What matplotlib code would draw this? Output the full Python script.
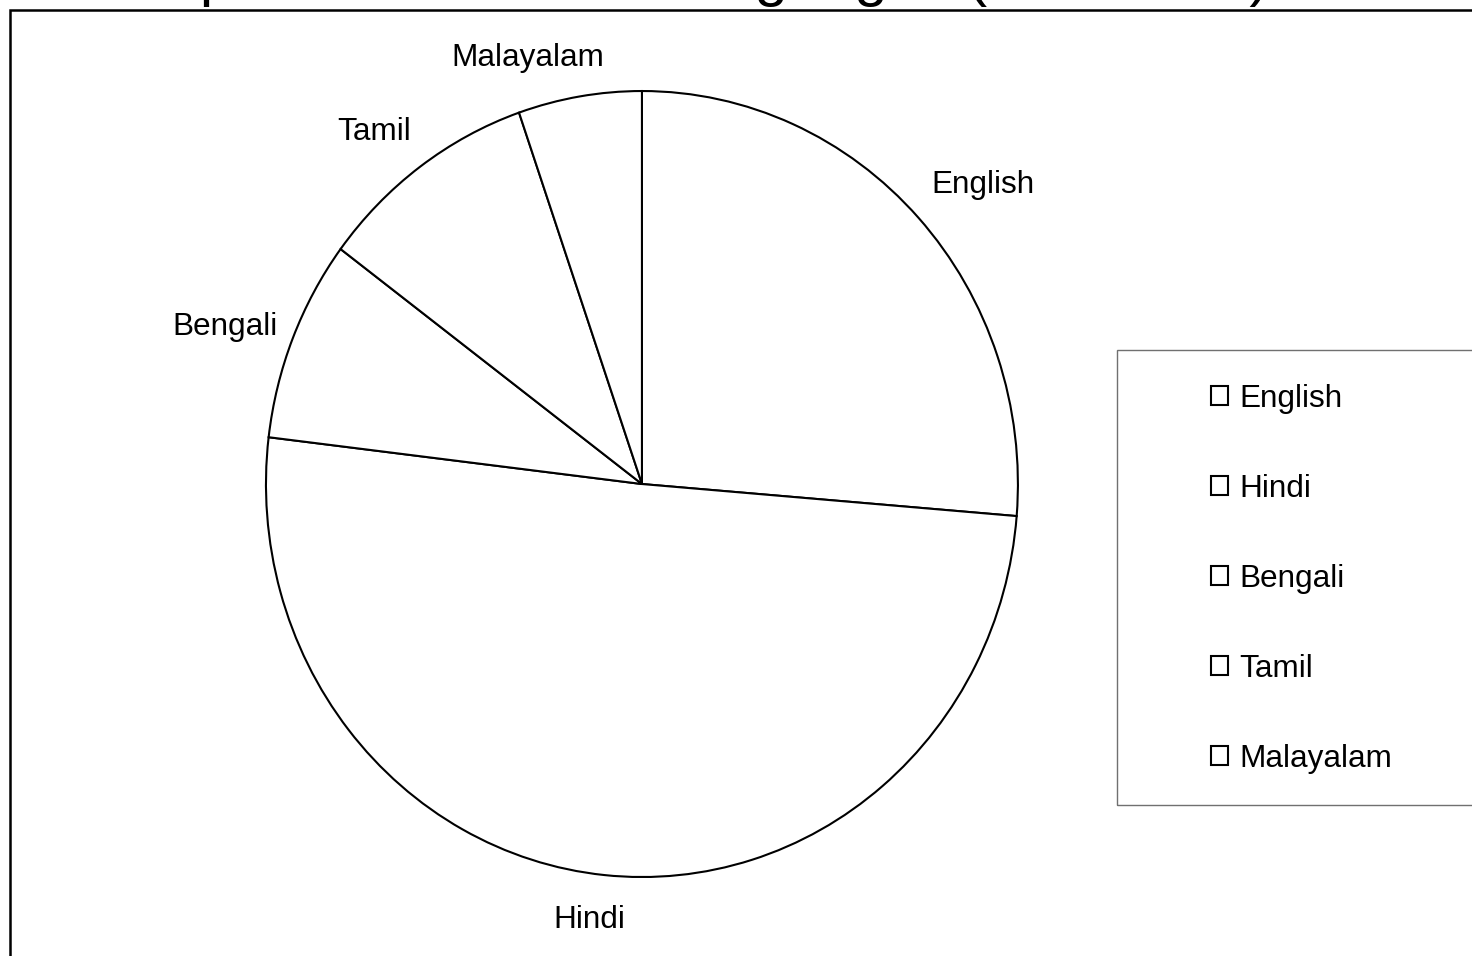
import matplotlib
matplotlib.use("Agg")
import matplotlib.pyplot as plt
import matplotlib.transforms as mtransforms
from matplotlib.patches import Rectangle

plt.rcParams['font.family'] = ['Liberation Sans', 'DejaVu Sans']

# data (share of the pie, %)
languages = ['English', 'Hindi', 'Bengali', 'Tamil', 'Malayalam']
shares = [26.3, 50.6, 8.3, 9.5, 5.3]
title_text = 'Speakers of Indian languages (in millions)'

# small nudges (pixels) so the slice labels sit where the original puts them
label_nudge = [(-9, 11), (24, -14), (13, 0), (9, 9), (30, 7)]

fig = plt.figure(figsize=(14.72, 9.56), dpi=100)

# outer chart frame (cropped on the right and bottom)
fig.add_artist(Rectangle((0.0071, -0.1), 1.2, 1.0895, transform=fig.transFigure,
                         fill=False, edgecolor='black', linewidth=1.8))

# title: only its descenders are visible at the top edge
fig.text(0.1087, 1.0052, title_text, fontsize=43, ha='left', va='baseline')

ax = fig.add_axes([0.1296, 0.0004, 0.6130, 0.9866])
wedges, texts = ax.pie(shares, labels=languages, startangle=90, counterclock=False,
                       colors=['white'] * len(shares),
                       wedgeprops=dict(edgecolor='black', linewidth=1.5),
                       labeldistance=1.08, textprops=dict(fontsize=22.7))
ax.set_aspect('auto')
ax.set_xlim(-1.2, 1.2)
ax.set_ylim(-1.2, 1.2)
ax.axis('off')

for t, (dx, dy) in zip(texts, label_nudge):
    t.set_transform(mtransforms.offset_copy(ax.transData, fig=fig, x=dx, y=dy, units='dots'))

# legend box drawn separately (wide padding in the original)
fig.add_artist(Rectangle((0.7588, 0.158), 0.3, 0.476, transform=fig.transFigure,
                         fill=False, edgecolor='#707070', linewidth=1.0))
fig.legend(wedges, languages, loc='upper left', bbox_to_anchor=(0.8227, 0.5983),
           frameon=False, borderpad=0, borderaxespad=0, fontsize=22.7,
           handlelength=0.54, handleheight=0.54, handletextpad=0.36,
           labelspacing=1.9)

fig.savefig('out.png', dpi=100)
